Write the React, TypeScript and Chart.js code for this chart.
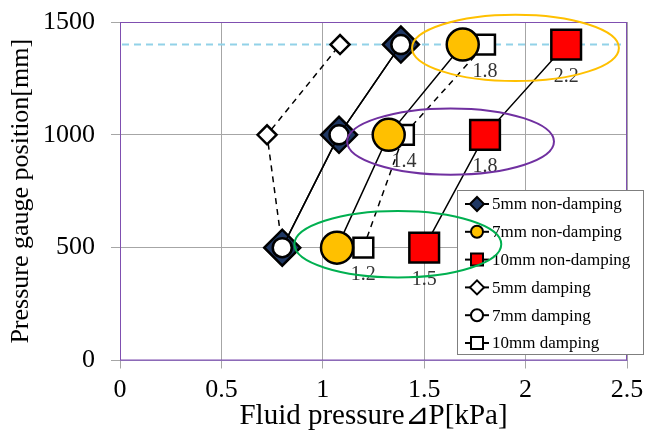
import { useEffect, useRef } from "react";
import { Chart, registerables } from "chart.js";

Chart.register(...registerables);

// Gauge positions along the pipe [mm]
const gaugePositions = [500, 1000, 1400];

// Fluid pressure ⊿P [kPa] at each gauge position
const nonDamping5mm = [0.8, 1.08, 1.385];
const nonDamping7mm = [1.07, 1.325, 1.69];
const nonDamping10mm = [1.5, 1.8, 2.2];
const damping5mm = [0.8, 0.725, 1.085];
const damping7mm = [0.8, 1.08, 1.385];
const damping10mm = [1.2, 1.4, 1.8];

// Horizontal reference level [mm]
const referenceLevel = 1400;

// Axis ticks
const xTickValues = [0, 0.5, 1, 1.5, 2, 2.5];
const yTickValues = [0, 500, 1000, 1500];

// Highlighted groups (centre in data units)
const groupCenterX = [1.37, 1.63, 1.95];
const groupCenterY = [515, 970, 1385];
const groupRadiusX = 0.51;
const groupRadiusY = 147;

const FONT = "'Liberation Serif', 'Times New Roman', serif";

type SeriesStyle = {
  label: string;
  values: number[];
  shape: "diamond" | "circle" | "square";
  fill: string;
  radius: number;
  dashed: boolean;
  order: number;
  valueLabels: boolean;
};

const series: SeriesStyle[] = [
  { label: "5mm non-damping", values: nonDamping5mm, shape: "diamond", fill: "#1F3864", radius: 18, dashed: false, order: 5, valueLabels: false },
  { label: "7mm non-damping", values: nonDamping7mm, shape: "circle", fill: "#FFC000", radius: 16, dashed: false, order: 2, valueLabels: false },
  { label: "10mm non-damping", values: nonDamping10mm, shape: "square", fill: "#FF0000", radius: 21, dashed: false, order: 1, valueLabels: true },
  { label: "5mm damping", values: damping5mm, shape: "diamond", fill: "#FFFFFF", radius: 9.5, dashed: true, order: 6, valueLabels: false },
  { label: "7mm damping", values: damping7mm, shape: "circle", fill: "#FFFFFF", radius: 9.5, dashed: false, order: 4, valueLabels: false },
  { label: "10mm damping", values: damping10mm, shape: "square", fill: "#FFFFFF", radius: 14, dashed: true, order: 3, valueLabels: true },
];

const groupColors = ["#00B050", "#7030A0", "#FFC000"];

const pointStyleFor = (shape: SeriesStyle["shape"]) =>
  shape === "diamond" ? "rectRot" : shape === "square" ? "rect" : "circle";

function drawMarker(ctx: CanvasRenderingContext2D, shape: SeriesStyle["shape"], x: number, y: number, size: number, fill: string) {
  ctx.beginPath();
  if (shape === "diamond") {
    ctx.moveTo(x - size, y);
    ctx.lineTo(x, y - size);
    ctx.lineTo(x + size, y);
    ctx.lineTo(x, y + size);
    ctx.closePath();
  } else if (shape === "circle") {
    ctx.arc(x, y, size, 0, Math.PI * 2);
  } else {
    ctx.rect(x - size, y - size, size * 2, size * 2);
  }
  ctx.fillStyle = fill;
  ctx.fill();
  ctx.lineWidth = 2;
  ctx.strokeStyle = "#000";
  ctx.stroke();
}

const overlayPlugin = {
  id: "overlay",
  beforeDatasetsDraw(chart: any) {
    const { ctx, chartArea: a, scales } = chart;
    ctx.save();
    // plot frame
    ctx.strokeStyle = "#7F4FB0";
    ctx.lineWidth = 1;
    ctx.strokeRect(a.left + 0.5, a.top + 0.5, a.right - a.left - 1, a.bottom - a.top - 1);
    // reference level
    const y = scales.y.getPixelForValue(referenceLevel);
    ctx.strokeStyle = "#92D2E8";
    ctx.lineWidth = 2;
    ctx.setLineDash([7, 5]);
    ctx.beginPath();
    ctx.moveTo(a.left + 2, y);
    ctx.lineTo(a.right - 2, y);
    ctx.stroke();
    ctx.restore();
  },
  afterDatasetsDraw(chart: any) {
    const { ctx, scales } = chart;
    ctx.save();

    // value labels under the 10mm markers
    ctx.font = `20px ${FONT}`;
    ctx.fillStyle = "#333";
    ctx.textAlign = "center";
    ctx.textBaseline = "top";
    series.forEach((s, i) => {
      if (!s.valueLabels) return;
      const meta = chart.getDatasetMeta(i);
      meta.data.forEach((pt: any, j: number) => {
        const half = s.radius * Math.SQRT1_2;
        ctx.fillText(s.values[j].toFixed(1), pt.x, pt.y + half + 7);
      });
    });

    // legend box
    const lx = 457, ly = 190, lw = 187, lh = 165;
    ctx.fillStyle = "#FFFFFF";
    ctx.fillRect(lx, ly, lw, lh);
    ctx.strokeStyle = "#7F7F7F";
    ctx.lineWidth = 1;
    ctx.strokeRect(lx + 0.5, ly + 0.5, lw - 1, lh - 1);
    ctx.font = `17px ${FONT}`;
    ctx.textAlign = "left";
    ctx.textBaseline = "middle";
    series.forEach((s, i) => {
      const rowY = ly + 14 + i * 27.8;
      ctx.strokeStyle = "#000";
      ctx.lineWidth = 2;
      ctx.setLineDash([]);
      ctx.beginPath();
      ctx.moveTo(465, rowY);
      ctx.lineTo(489, rowY);
      ctx.stroke();
      const size = s.shape === "diamond" ? 7 : 6;
      drawMarker(ctx, s.shape, 477, rowY, size, s.fill);
      ctx.fillStyle = "#000";
      ctx.fillText(s.label, 492, rowY + 1);
    });

    // group outlines
    const x = scales.x, yS = scales.y;
    groupCenterX.forEach((cx, i) => {
      const px = x.getPixelForValue(cx);
      const py = yS.getPixelForValue(groupCenterY[i]);
      const rx = x.getPixelForValue(cx + groupRadiusX) - px;
      const ry = py - yS.getPixelForValue(groupCenterY[i] + groupRadiusY);
      ctx.beginPath();
      ctx.ellipse(px, py, rx, ry, 0, 0, Math.PI * 2);
      ctx.strokeStyle = groupColors[i];
      ctx.lineWidth = 2;
      ctx.stroke();
    });
    ctx.restore();
  },
};

export default function App() {
  const canvasRef = useRef<HTMLCanvasElement | null>(null);

  useEffect(() => {
    if (!canvasRef.current) return;
    const chart = new Chart(canvasRef.current, {
      type: "line",
      data: {
        datasets: series.map((s) => ({
          label: s.label,
          data: s.values.map((v, j) => ({ x: v, y: gaugePositions[j] })),
          order: s.order,
          borderColor: "#000",
          borderWidth: 1.5,
          borderDash: s.dashed ? [6, 5] : [],
          fill: false,
          tension: 0,
          pointStyle: pointStyleFor(s.shape),
          pointRadius: s.radius,
          pointHoverRadius: s.radius,
          pointBackgroundColor: s.fill,
          pointBorderColor: "#000",
          pointBorderWidth: 2.5,
        })),
      },
      options: {
        responsive: false,
        animation: false,
        devicePixelRatio: 1,
        events: [],
        layout: { autoPadding: false, padding: { top: 22, right: 18, left: 0, bottom: 0 } },
        plugins: { legend: { display: false }, tooltip: { enabled: false } },
        scales: {
          x: {
            type: "linear",
            min: 0,
            max: 2.5,
            afterBuildTicks: (sc: any) => {
              sc.ticks = xTickValues.map((v) => ({ value: v }));
            },
            afterFit: (sc: any) => {
              sc.height = 73.5;
              sc.paddingLeft = 0;
              sc.paddingRight = 0;
            },
            ticks: {
              font: { family: FONT, size: 26 },
              color: "#000",
              padding: 6,
              maxRotation: 0,
              callback: (v: any) => String(v),
            },
            grid: { color: "#A6A6A6", tickColor: "#A6A6A6", tickLength: 8, lineWidth: 1 },
            border: { color: "#9A86BE", width: 1 },
            title: {
              display: true,
              text: "Fluid pressure⊿P[kPa]",
              font: { family: FONT, size: 29 },
              color: "#000",
              padding: { top: 0, bottom: 0 },
            },
          },
          y: {
            type: "linear",
            min: 0,
            max: 1500,
            afterBuildTicks: (sc: any) => {
              sc.ticks = yTickValues.map((v) => ({ value: v }));
            },
            afterFit: (sc: any) => {
              sc.width = 120;
              sc.paddingTop = 0;
              sc.paddingBottom = 0;
            },
            ticks: {
              font: { family: FONT, size: 26 },
              color: "#000",
              padding: 16,
              callback: (v: any) => String(v),
            },
            grid: { color: "#A6A6A6", tickColor: "#A6A6A6", tickLength: 9, lineWidth: 1 },
            border: { color: "#9A86BE", width: 1 },
            title: {
              display: true,
              text: "Pressure gauge position[mm]",
              font: { family: FONT, size: 26 },
              color: "#000",
              padding: { top: 6, bottom: 0 },
            },
          },
        },
      },
      plugins: [overlayPlugin],
    } as any);
    return () => chart.destroy();
  }, []);

  return (
    <div style={{ position: "fixed", left: 0, top: 0, width: 645, height: 434, background: "#fff" }}>
      <canvas ref={canvasRef} width={645} height={434} style={{ display: "block" }} />
    </div>
  );
}
